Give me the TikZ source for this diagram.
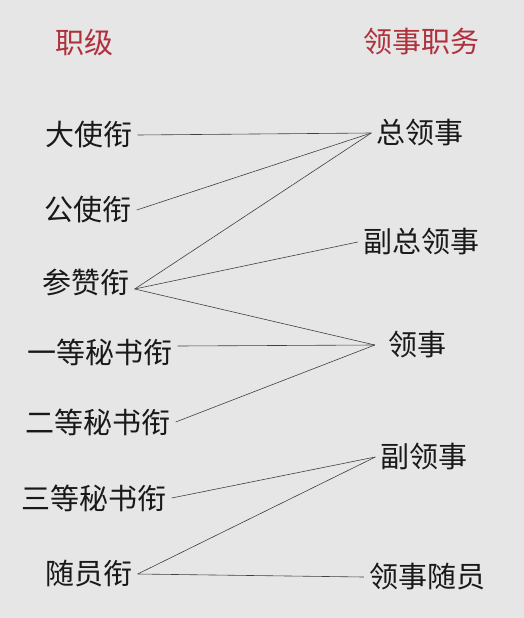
\documentclass[tikz,border=0pt]{standalone}
\usepackage{fontspec}
\setmainfont{Noto Sans CJK SC}
\usepackage{xcolor}
\definecolor{hintergrund}{HTML}{E6E6E6}
\definecolor{kopfrot}{HTML}{B0303C}
\begin{document}
\begin{tikzpicture}[x=1pt,y=-1pt,
  rang/.style={font=\fontsize{29}{34}\selectfont, text=black!90, inner sep=5pt},
  kopf/.style={font=\fontsize{29}{34}\selectfont, text=kopfrot},
  verb/.style={draw=black!75, line width=0.6pt}]
  \fill[hintergrund] (0,0) rectangle (524,618);
  \useasboundingbox (0,0) rectangle (524,618);

  % Kopfzeile
  \node[kopf] (zhiji) at (84,42) {职级};
  \node[kopf] (zhiwu) at (421,42) {领事职务};

  % Linke Spalte
  \node[rang] (dashi) at (89,135) {大使衔};
  \node[rang] (gongshi) at (88,210) {公使衔};
  \node[rang] (canzan) at (86,282) {参赞衔};
  \node[rang] (yideng) at (100,352) {一等秘书衔};
  \node[rang] (erdeng) at (98,422) {二等秘书衔};
  \node[rang] (sandeng) at (94,498) {三等秘书衔};
  \node[rang] (suiyuan) at (89,574) {随员衔};

  % Rechte Spalte
  \node[rang] (zongling) at (420,133) {总领事};
  \node[rang] (fuzong) at (421,242) {副总领事};
  \node[rang] (lingshi) at (417,345) {领事};
  \node[rang] (fuling) at (424,457) {副领事};
  \node[rang] (lingsui) at (427,577) {领事随员};

  % Verbindungen
  \coordinate (canzanR) at ([yshift=-7pt]canzan.east);
  \coordinate (lingshiL) at ([xshift=-8pt]lingshi.west);
  \draw[verb] (dashi.east) -- (zongling.west);
  \draw[verb] (gongshi.east) -- (zongling.west);
  \draw[verb] (canzanR) -- (zongling.west);
  \draw[verb] (canzanR) -- (fuzong.west);
  \draw[verb] (canzanR) -- (lingshiL);
  \draw[verb] ([yshift=6pt]yideng.east) -- (lingshiL);
  \draw[verb] (erdeng.east) -- (lingshiL);
  \draw[verb] (sandeng.east) -- (fuling.west);
  \draw[verb] (suiyuan.east) -- (fuling.west);
  \draw[verb] (suiyuan.east) -- (lingsui.west);

\end{tikzpicture}
\end{document}
